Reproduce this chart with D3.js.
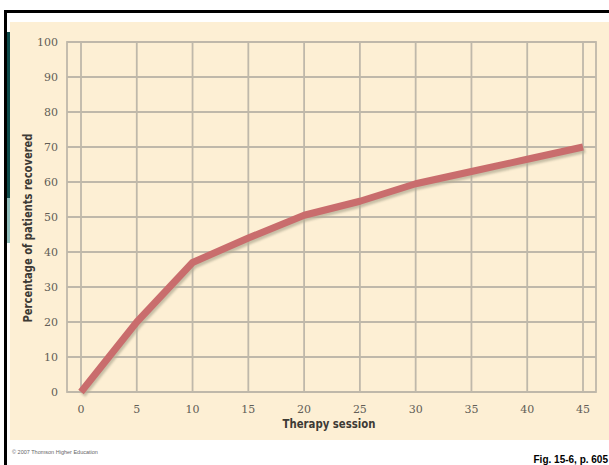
<!DOCTYPE html>
<html>
<head>
<meta charset="utf-8">
<script src="https://cdn.jsdelivr.net/npm/d3@7"></script>
<style>
  body { margin: 0; background: #fff; }
  svg { display: block; }
</style>
</head>
<body>
<svg id="chart"></svg>
<script>
var width = 609, height = 465;

// data
var sessions = [0, 5, 10, 15, 20, 25, 30, 35, 40, 45];
var recovered = [0, 20, 37, 44, 50.5, 54.5, 59.5, 63, 66.5, 70];
var xTicks = [0, 5, 10, 15, 20, 25, 30, 35, 40, 45];
var yTicks = [0, 10, 20, 30, 40, 50, 60, 70, 80, 90, 100];

var svg = d3.select("#chart")
    .attr("width", width)
    .attr("height", height);

var defs = svg.append("defs");
defs.append("filter").attr("id", "soft")
    .append("feGaussianBlur").attr("stdDeviation", 0.6);
defs.append("filter").attr("id", "shadow")
    .append("feGaussianBlur").attr("stdDeviation", 1.2);

// frame
svg.append("rect").attr("x", 4).attr("y", 10).attr("width", 3).attr("height", height - 10).attr("fill", "#000");
svg.append("rect").attr("x", 4).attr("y", 10).attr("width", width - 4).attr("height", 3).attr("fill", "#000");
svg.append("rect").attr("x", 10).attr("y", 22).attr("width", width - 10).attr("height", 418).attr("fill", "#fdefd4");
svg.append("rect").attr("x", 7).attr("y", 32).attr("width", 3).attr("height", 166).attr("fill", "#0d4a4a");
svg.append("rect").attr("x", 7).attr("y", 198).attr("width", 3).attr("height", 45).attr("fill", "#8fbdbb");

var x = d3.scaleLinear().domain([0, 45]).range([81, 583]);
var y = d3.scaleLinear().domain([0, 100]).range([392, 42]);

var plotLeft = 67, plotRight = 596;

var grid = svg.append("g").attr("filter", "url(#soft)")
    .attr("stroke", "#bfb8aa").attr("stroke-width", 1.8).attr("fill", "none");

grid.selectAll("line.h").data(yTicks).enter().append("line")
    .attr("class", "h")
    .attr("x1", plotLeft).attr("x2", plotRight)
    .attr("y1", function(d) { return y(d); })
    .attr("y2", function(d) { return y(d); });

grid.selectAll("line.v").data(xTicks).enter().append("line")
    .attr("class", "v")
    .attr("x1", function(d) { return x(d); })
    .attr("x2", function(d) { return x(d); })
    .attr("y1", y(100)).attr("y2", y(0));

grid.append("rect")
    .attr("x", plotLeft).attr("y", y(100))
    .attr("width", plotRight - plotLeft).attr("height", y(0) - y(100));

// tick labels
svg.selectAll("text.ytick").data(yTicks).enter().append("text")
    .attr("class", "ytick")
    .attr("x", 58)
    .attr("y", function(d) { return y(d); })
    .attr("dy", "0.35em")
    .attr("text-anchor", "end")
    .attr("font-family", "'DejaVu Serif', serif")
    .attr("font-size", 11)
    .attr("fill", "#625e57")
    .text(function(d) { return d; });

svg.selectAll("text.xtick").data(xTicks).enter().append("text")
    .attr("class", "xtick")
    .attr("x", function(d) { return x(d); })
    .attr("y", 409)
    .attr("dy", "0.35em")
    .attr("text-anchor", "middle")
    .attr("font-family", "'DejaVu Serif', serif")
    .attr("font-size", 11)
    .attr("fill", "#625e57")
    .text(function(d) { return d; });

// axis titles
svg.append("text")
    .attr("x", 329).attr("y", 428)
    .attr("text-anchor", "middle")
    .attr("font-family", "'DejaVu Sans Condensed', sans-serif")
    .attr("font-weight", "bold")
    .attr("font-size", 12)
    .attr("textLength", 93)
    .attr("lengthAdjust", "spacingAndGlyphs")
    .attr("fill", "#3d3a35")
    .text("Therapy session");

svg.append("text")
    .attr("transform", "translate(32,228) rotate(-90)")
    .attr("text-anchor", "middle")
    .attr("font-family", "'DejaVu Sans Condensed', sans-serif")
    .attr("font-weight", "bold")
    .attr("font-size", 12)
    .attr("textLength", 189)
    .attr("lengthAdjust", "spacingAndGlyphs")
    .attr("fill", "#3d3a35")
    .text("Percentage of patients recovered");

// the curve
var points = sessions.map(function(s, i) { return [s, recovered[i]]; });
var line = d3.line()
    .x(function(d) { return x(d[0]); })
    .y(function(d) { return y(d[1]); });

svg.append("path")
    .datum(points)
    .attr("d", line)
    .attr("transform", "translate(2,3)")
    .attr("fill", "none")
    .attr("stroke", "#b5ae96")
    .attr("stroke-width", 6)
    .attr("stroke-linejoin", "round")
    .attr("opacity", 0.75)
    .attr("filter", "url(#shadow)");

svg.append("path")
    .datum(points)
    .attr("d", line)
    .attr("fill", "none")
    .attr("stroke", "#c96d6d")
    .attr("stroke-width", 7)
    .attr("stroke-linejoin", "round");

// footer
svg.append("text")
    .attr("x", 12).attr("y", 454)
    .attr("font-family", "'Liberation Sans', Arial, sans-serif")
    .attr("font-size", 5.5)
    .attr("fill", "#666")
    .text("\u00a9 2007 Thomson Higher Education");

svg.append("text")
    .attr("x", 608).attr("y", 463)
    .attr("text-anchor", "end")
    .attr("font-family", "'Liberation Sans', Arial, sans-serif")
    .attr("font-weight", "bold")
    .attr("font-size", 10)
    .attr("fill", "#000")
    .text("Fig. 15-6, p. 605");
</script>
</body>
</html>
